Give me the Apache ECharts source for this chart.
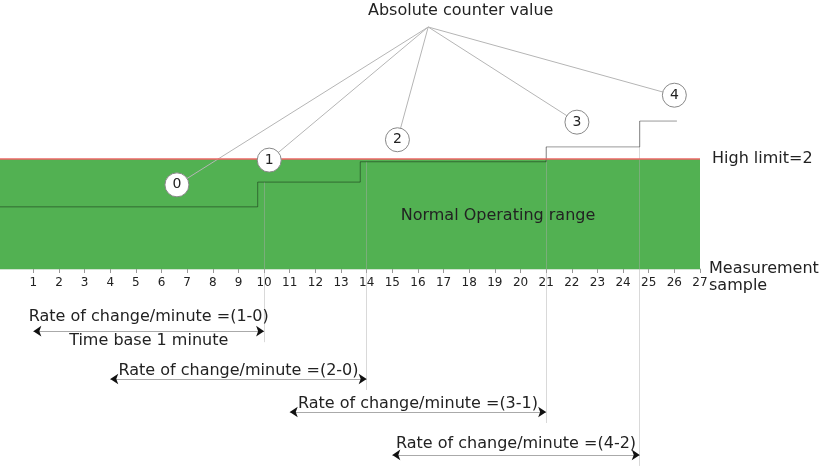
<!DOCTYPE html>
<html><head><meta charset="utf-8">
<script src="https://cdn.jsdelivr.net/npm/echarts@6/dist/echarts.min.js"></script>
<style>html,body{margin:0;padding:0;background:#fff}#c{width:820px;height:470px}</style>
</head><body><div id="c"></div>
<script>
// ---- data ----
const sampleTicks = [1,2,3,4,5,6,7,8,9,10,11,12,13,14,15,16,17,18,19,20,21,22,23,24,25,26,27];
const changeAt = [-0.3, 9.75, 13.75, 21, 24.65];      // sample where the counter changes
const counterValues = [1.13, 1.58, 1.95, 2.22, 2.69];  // absolute counter value
const lastSample = 26.1;
const highLimit = 2;
const calloutNames = ['0','1','2','3','4'];
const calloutX = [6.6, 10.2, 15.2, 22.2, 26.0];
const calloutY = [1.53, 1.98, 2.35, 2.67, 3.16];
const calloutHub = [16.4, 4.4];
const rateLabels = ['Rate of change/minute =(1-0)','Rate of change/minute =(2-0)','Rate of change/minute =(3-1)','Rate of change/minute =(4-2)'];
const rateFrom = [1, 4, 11, 15];
const rateTo = [10, 14, 21, 24.65];
const rateRow = [-1.13, -2.0, -2.6, -3.38];
const timeBaseLabel = 'Time base 1 minute';

// ---- styles ----
const FONT = 'DejaVu Sans';
const TXT = '#222';
const rowLabelGap = [6, 0, 0, 3];

const stepData = changeAt.map((x, i) => [x, counterValues[i]]);
stepData.push([lastSample, counterValues[counterValues.length - 1]]);

const chart = echarts.init(document.getElementById('c'));
chart.setOption({
  animation: false,
  title: {
    text: 'Absolute counter value', left: 368, top: 3, padding: 0,
    textStyle: { fontFamily: FONT, fontSize: 16, fontWeight: 'normal', color: TXT }
  },
  grid: [
    { left: 0, right: 120, top: 16, bottom: 3, containLabel: false, outerBoundsMode: 'none' },
    { left: 0, right: 120, top: 16, bottom: 201, containLabel: false, outerBoundsMode: 'none' }
  ],
  xAxis: [
    { type: 'value', gridIndex: 0, min: -0.3, max: 27, show: false },
    {
      type: 'value', gridIndex: 1, min: -0.3, max: 27,
      name: ' \nMeasurement\nsample', nameLocation: 'end', nameGap: 9, nameMoveOverlap: false,
      nameTextStyle: { fontFamily: FONT, fontSize: 16, color: TXT, align: 'left', verticalAlign: 'middle', lineHeight: 17 },
      axisLine: { onZero: false, lineStyle: { color: '#cfe3cf', width: 2 } },
      axisTick: { show: true, customValues: sampleTicks, length: 4, lineStyle: { color: '#999' } },
      axisLabel: { customValues: sampleTicks, fontFamily: FONT, fontSize: 12, color: TXT, margin: 8 },
      splitLine: { show: false }
    }
  ],
  yAxis: [
    { type: 'value', gridIndex: 0, min: -3.6, max: 4.6, show: false },
    { type: 'value', gridIndex: 1, min: 0, max: 4.6, show: false }
  ],
  series: [
    {
      type: 'line', step: 'end', data: stepData, symbol: 'none', silent: true, z: 3,
      lineStyle: { color: 'rgba(0,0,0,0.4)', width: 1 },
      markArea: {
        silent: true,
        itemStyle: { color: '#52b152' },
        label: { show: true, position: 'inside', offset: [148, 2], formatter: 'Normal Operating range',
                 fontFamily: FONT, fontSize: 16, color: TXT },
        data: [[{ yAxis: 0 }, { yAxis: highLimit }]]
      },
      markLine: {
        silent: true, symbol: 'none',
        lineStyle: { color: '#ec6666', width: 1.5, type: 'solid' },
        label: { position: 'end', distance: 12, formatter: 'High limit=' + highLimit,
                 fontFamily: FONT, fontSize: 16, color: TXT },
        data: [{ yAxis: highLimit }]
      }
    },
    {
      type: 'lines', coordinateSystem: 'cartesian2d', silent: true, z: 3,
      lineStyle: { color: '#b5b5b5', width: 1, opacity: 1 },
      data: calloutX.map((x, i) => ({ coords: [calloutHub, [x, calloutY[i]]] }))
    },
    {
      type: 'lines', coordinateSystem: 'cartesian2d', silent: true, z: 2,
      lineStyle: { color: 'rgba(170,170,170,0.45)', width: 1, opacity: 1 },
      data: rateTo.map((x, i) => ({ coords: [[x, counterValues[i + 1]], [x, rateRow[i] - 0.2]] }))
    },
    {
      type: 'lines', coordinateSystem: 'cartesian2d', silent: true, z: 3,
      lineStyle: { color: '#aaa', width: 1, opacity: 1 },
      label: { show: true, position: 'middle', formatter: '{b}', fontFamily: FONT, fontSize: 16, color: TXT },
      data: rateLabels.map((t, i) => ({
        name: t, coords: [[rateFrom[i], rateRow[i]], [rateTo[i], rateRow[i]]],
        label: { distance: rowLabelGap[i] }
      }))
    },
    {
      type: 'lines', coordinateSystem: 'cartesian2d', silent: true, z: 4,
      symbol: ['arrow', 'arrow'], symbolSize: 8,
      lineStyle: { color: '#111', width: 0, opacity: 1 },
      data: rateLabels.map((t, i) => ({ coords: [[rateFrom[i], rateRow[i]], [rateTo[i], rateRow[i]]] }))
    },
    {
      type: 'lines', coordinateSystem: 'cartesian2d', silent: true, z: 3,
      lineStyle: { color: 'rgba(0,0,0,0)', width: 0, opacity: 1 },
      label: { show: true, position: 'insideMiddleBottom', distance: 2, formatter: '{b}', fontFamily: FONT, fontSize: 16, color: TXT },
      data: [{ name: timeBaseLabel, coords: [[rateFrom[0], rateRow[0]], [rateTo[0], rateRow[0]]] }]
    },
    {
      type: 'scatter', silent: true, z: 5, symbolSize: 24,
      itemStyle: { color: '#fff', borderColor: '#888', borderWidth: 1, opacity: 1 },
      label: { show: true, position: 'inside', formatter: '{b}', fontFamily: FONT, fontSize: 14, color: TXT },
      data: calloutNames.map((n, i) => ({ name: n, value: [calloutX[i], calloutY[i]] }))
    }
  ]
});
</script>
</body></html>
